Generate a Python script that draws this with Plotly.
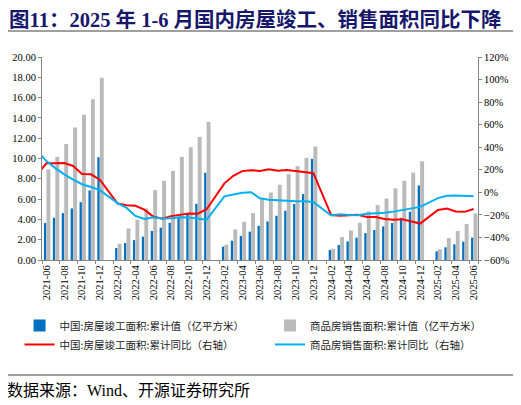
import plotly.graph_objects as go

# Categories (2021-05 only carries the line's first point, off the left edge)
months = [
    "2021-05", "2021-06", "2021-07", "2021-08", "2021-09", "2021-10", "2021-11", "2021-12",
    "2022-01", "2022-02", "2022-03", "2022-04", "2022-05", "2022-06", "2022-07", "2022-08",
    "2022-09", "2022-10", "2022-11", "2022-12",
    "2023-01", "2023-02", "2023-03", "2023-04", "2023-05", "2023-06", "2023-07", "2023-08",
    "2023-09", "2023-10", "2023-11", "2023-12",
    "2024-01", "2024-02", "2024-03", "2024-04", "2024-05", "2024-06", "2024-07", "2024-08",
    "2024-09", "2024-10", "2024-11", "2024-12",
    "2025-01", "2025-02", "2025-03", "2025-04", "2025-05", "2025-06",
]
tick_labels = months[1::2]

# 中国:房屋竣工面积:累计值（亿平方米）
completion = [
    None, 3.64, 4.16, 4.62, 5.08, 5.70, 6.85, 10.13,
    None, 1.18, 1.67, 1.96, 2.30, 2.86, 3.18, 3.67, 4.26, 4.59, 5.54, 8.59,
    None, 1.31, 1.90, 2.36, 2.79, 3.37, 3.80, 4.36, 4.85, 5.51, 6.49, 9.96,
    None, 0.98, 1.47, 1.83, 2.20, 2.65, 2.95, 3.31, 3.64, 4.16, 4.75, 7.34,
    None, 0.85, 1.25, 1.54, 1.80, 2.20,
]
# 商品房销售面积:累计值（亿平方米）
sales = [
    None, 8.92, 10.16, 11.44, 13.05, 14.32, 15.83, 17.96,
    None, 1.60, 3.11, 3.97, 5.07, 6.89, 7.80, 8.78, 10.16, 11.11, 12.13, 13.60,
    None, 1.51, 3.02, 3.77, 4.62, 6.00, 6.65, 7.41, 8.46, 9.24, 10.06, 11.18,
    None, 1.11, 2.26, 2.92, 3.67, 4.78, 5.41, 6.06, 7.05, 7.80, 8.62, 9.73,
    None, 1.05, 2.16, 2.85, 3.54, 4.58,
]
# 中国:房屋竣工面积:累计同比（%）
completion_yoy = [
    16.4, 25.7, 25.7, 26.0, 23.4, 16.3, 16.0, 11.2,
    None, -9.9, -11.5, -11.9, -15.3, -21.5, -23.3, -21.1, -19.9, -18.7, -19.0, -15.0,
    None, 8.0, 14.7, 18.8, 19.6, 19.0, 20.5, 19.2, 19.8, 19.0, 17.9, 17.0,
    None, -20.2, -20.7, -20.4, -19.9, -21.8, -21.8, -23.6, -24.4, -23.9, -26.0, -27.7,
    None, -15.6, -14.3, -16.9, -17.3, -14.8,
]
# 商品房销售面积:累计同比（%）
sales_yoy = [
    36.3, 27.7, 21.5, 15.9, 11.3, 7.2, 4.8, 1.9,
    None, -9.6, -13.8, -20.9, -23.6, -22.2, -23.1, -23.0, -22.2, -22.3, -23.3, -24.3,
    None, -3.6, -1.8, -0.4, 0.1, -5.3, -6.5, -7.1, -7.5, -7.8, -8.0, -8.5,
    None, -20.5, -19.4, -20.2, -20.3, -19.0, -18.6, -18.0, -17.1, -15.8, -14.3, -12.9,
    None, -5.1, -3.0, -2.8, -2.9, -3.5,
]

SERIF = "Liberation Serif, Times New Roman, serif"
CJK = "Noto Sans CJK SC"
AXIS_C = "#868686"

fig = go.Figure()
fig.add_trace(go.Bar(
    x=months, y=completion, name="中国:房屋竣工面积:累计值（亿平方米）",
    marker=dict(color="#0070C0", line=dict(width=0)), offset=-0.28, width=0.26,
    legend="legend", legendgroup="a",
))
fig.add_trace(go.Bar(
    x=months, y=sales, name="商品房销售面积:累计值（亿平方米）",
    marker=dict(color="#BABABA", line=dict(width=0)), offset=0.0, width=0.44,
    legend="legend2", legendgroup="b",
))
fig.add_trace(go.Scatter(
    x=months, y=completion_yoy, name="中国:房屋竣工面积:累计同比（右轴）",
    mode="lines", line=dict(color="#FF0000", width=2), connectgaps=True, yaxis="y2",
    legend="legend", legendgroup="c",
))
fig.add_trace(go.Scatter(
    x=months, y=sales_yoy, name="商品房销售面积:累计同比（右轴）",
    mode="lines", line=dict(color="#00B0F0", width=2), connectgaps=True, yaxis="y2",
    legend="legend2", legendgroup="d",
))

legend_common = dict(
    orientation="v", y=-0.251, xanchor="left", yanchor="top",
    font=dict(family=CJK, size=10.5, color="#222"),
    bgcolor="rgba(0,0,0,0)", traceorder="normal", tracegroupgap=3,
)

# page body has an 8px default margin, so the figure is 8px smaller than the window
fig.update_layout(
    width=513, height=397,
    margin=dict(l=33.7, r=42.7, t=48.7, b=145, autoexpand=False),
    paper_bgcolor="white", plot_bgcolor="white",
    barmode="overlay",
    showlegend=True,
    xaxis=dict(
        type="category", categoryorder="array", categoryarray=months,
        range=[0.5, len(months) - 0.5],
        tickmode="array", tickvals=tick_labels, ticktext=tick_labels,
        tickangle=-90, tickfont=dict(family=SERIF, size=10.5, color="#000"),
        showline=True, linecolor=AXIS_C, linewidth=1,
        ticks="outside", ticklen=3, tickcolor=AXIS_C, tickson="boundaries",
        showgrid=False, zeroline=False,
    ),
    yaxis=dict(
        range=[0, 20], dtick=2, tickformat=".2f",
        tickfont=dict(family=SERIF, size=10.5, color="#000"),
        showline=True, linecolor=AXIS_C, linewidth=1,
        ticks="outside", ticklen=3, tickcolor=AXIS_C,
        showgrid=False, zeroline=False,
    ),
    yaxis2=dict(
        overlaying="y", side="right",
        range=[-60, 120], dtick=20, ticksuffix="%",
        tickfont=dict(family=SERIF, size=10.5, color="#000"),
        showline=True, linecolor=AXIS_C, linewidth=1,
        ticks="outside", ticklen=3, tickcolor=AXIS_C,
        showgrid=False, zeroline=False,
    ),
    legend=dict(x=-0.0515, **legend_common),
    legend2=dict(x=0.523, **legend_common),
    title=dict(
        text="图11：2025 年 1-6 月国内房屋竣工、销售面积同比下降",
        font=dict(family="Liberation Serif, Noto Sans CJK SC", size=20.5, color="#17176B", weight="bold"),
        xref="container", yref="container", x=0.002, xanchor="left", y=0.97, yanchor="middle",
    ),
    shapes=[
        dict(type="line", xref="paper", yref="paper", x0=-0.084, x1=1.086, y0=1.128, y1=1.128,
             line=dict(color="#7F7F7F", width=1.5)),
        dict(type="line", xref="paper", yref="paper", x0=-0.084, x1=1.086, y0=-0.566, y1=-0.566,
             line=dict(color="#7F7F7F", width=1.5)),
    ],
    annotations=[
        dict(text="数据来源：Wind、开源证券研究所", xref="paper", yref="paper",
             x=-0.084, y=-0.643, xanchor="left", yanchor="middle", showarrow=False,
             font=dict(family="Liberation Serif, Noto Sans CJK SC", size=16, color="#000")),
    ],
)

fig.write_html("out.html")
